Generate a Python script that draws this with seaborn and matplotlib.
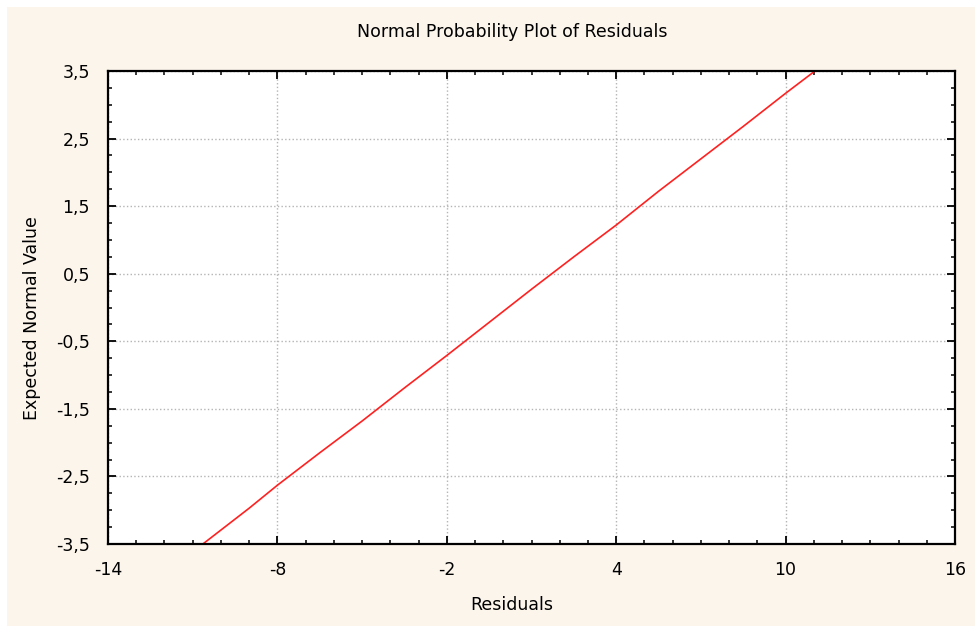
import numpy as np
import matplotlib
matplotlib.use("Agg")
import matplotlib.pyplot as plt
import seaborn as sns
from matplotlib.ticker import MultipleLocator, FuncFormatter
from matplotlib.patches import Rectangle

# Normal probability plot points
residuals = [-10.64, -9.0, -8.0, -6.5, -5.0, -3.5, -2.0, -0.5, 1.0, 2.5, 4.0, 5.5, 7.0, 8.5, 10.0, 11.04]
expected = [-3.5, -2.97, -2.63, -2.15, -1.68, -1.19, -0.71, -0.22, 0.27, 0.75, 1.22, 1.72, 2.2, 2.68, 3.17, 3.5]

x_ticks = [-14, -8, -2, 4, 10, 16]
y_ticks = [-3.5, -2.5, -1.5, -0.5, 0.5, 1.5, 2.5, 3.5]

sns.set_style("ticks")
plt.rcParams['font.family'] = ['DejaVu Sans']
plt.rcParams['text.color'] = 'black'
plt.rcParams['axes.labelcolor'] = 'black'
plt.rcParams['xtick.labelcolor'] = 'black'
plt.rcParams['ytick.labelcolor'] = 'black'

fs = 12.5
cream = '#fcf5ec'
fig = plt.figure(figsize=(9.75, 6.26), dpi=100, facecolor='white')
fig.patches.append(Rectangle((7 / 975, 0), 1, 1 - 7 / 626, transform=fig.transFigure,
                             facecolor=cream, edgecolor='none', zorder=-10))
ax = fig.add_axes([108 / 975, 1 - 544 / 626, 847 / 975, 473 / 626])
ax.set_facecolor('white')

sns.lineplot(x=residuals, y=expected, color='#ff2020', linewidth=1.2, ax=ax, sort=False)

ax.set_xlim(-14, 16)
ax.set_ylim(-3.5, 3.5)
ax.set_xticks(x_ticks)
ax.set_yticks(y_ticks)
ax.xaxis.set_minor_locator(MultipleLocator(1))
ax.yaxis.set_minor_locator(MultipleLocator(0.25))
comma = FuncFormatter(lambda v, p: ('%g' % v).replace('.', ','))
ax.xaxis.set_major_formatter(comma)
ax.yaxis.set_major_formatter(comma)

ax.grid(True, which='major', color='#b4b4b4', linestyle=':', linewidth=1)
ax.tick_params(which='both', direction='in', top=True, right=True, color='black')
ax.tick_params(which='major', length=6, width=1.3, labelsize=fs)
ax.tick_params(axis='x', which='major', pad=12)
ax.tick_params(axis='y', which='major', pad=13)
ax.tick_params(which='minor', length=3, width=1.1)
for s in ax.spines.values():
    s.set_visible(True)
    s.set_color('black')
    s.set_linewidth(1.6)

fig.text(512 / 975, 1 - 32 / 626, 'Normal Probability Plot of Residuals',
         ha='center', va='center', fontsize=fs, color='black')
ax.set_xlabel('Residuals', fontsize=fs)
ax.set_ylabel('Expected Normal Value', fontsize=fs)
ax.xaxis.set_label_coords((512 - 108) / 847, (544 - 605) / 473)
ax.xaxis.label.set_va('center')
ax.yaxis.set_label_coords((32 - 108) / 847, (544 - 318) / 473)
ax.yaxis.label.set_va('center')

fig.savefig('out.png', dpi=100, facecolor=fig.get_facecolor())
